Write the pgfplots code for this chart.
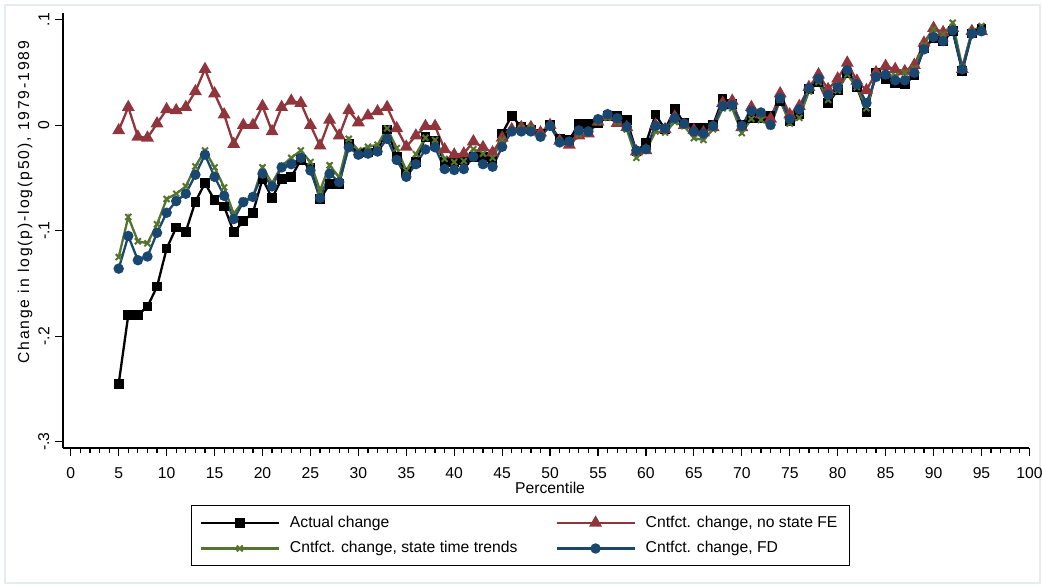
\documentclass[border=0pt]{standalone}
\usepackage{fontspec}
\setmainfont{Liberation Sans}
\newfontfamily\ylabfont[LetterSpace=12]{Liberation Sans}
\usepackage{pgfplots}
\usepackage{pgfplotstable}
\pgfplotsset{compat=1.18}
\definecolor{smaroon}{RGB}{144,53,59}
\definecolor{sgreen}{RGB}{85,117,47}
\definecolor{snavy}{RGB}{26,71,111}
\definecolor{frameclr}{RGB}{228,236,238}

\pgfplotstableread{
p actual nofe trends fd
5 -0.245 -0.005 -0.125 -0.136
6 -0.180 0.017 -0.087 -0.105
7 -0.180 -0.011 -0.110 -0.128
8 -0.172 -0.012 -0.112 -0.1245
9 -0.153 0.0015 -0.094 -0.102
10 -0.117 0.015 -0.070 -0.083
11 -0.097 0.014 -0.065 -0.072
12 -0.101 0.017 -0.058 -0.065
13 -0.0725 0.032 -0.039 -0.047
14 -0.055 0.053 -0.024 -0.028
15 -0.071 0.030 -0.040 -0.049
16 -0.077 0.010 -0.059 -0.067
17 -0.1015 -0.018 -0.084 -0.089
18 -0.091 0.000 -0.0716 -0.073
19 -0.083 0.000 -0.068 -0.068
20 -0.051 0.018 -0.040 -0.046
21 -0.069 -0.006 -0.055 -0.058
22 -0.051 0.017 -0.0385 -0.040
23 -0.049 0.023 -0.031 -0.037
24 -0.033 0.021 -0.024 -0.031
25 -0.040 0.000 -0.035 -0.043
26 -0.070 -0.0195 -0.062 -0.069
27 -0.056 0.005 -0.038 -0.046
28 -0.056 -0.010 -0.0495 -0.054
29 -0.018 0.014 -0.013 -0.021
30 -0.027 0.0025 -0.024 -0.028
31 -0.026 0.009 -0.0205 -0.027
32 -0.024 0.013 -0.0186 -0.025
33 -0.004 0.017 -0.003 -0.013
34 -0.030 -0.003 -0.0217 -0.033
35 -0.045 -0.0205 -0.043 -0.049
36 -0.035 -0.010 -0.0274 -0.037
37 -0.011 -0.001 -0.012 -0.023
38 -0.015 -0.001 -0.014 -0.021
39 -0.035 -0.023 -0.032 -0.0416
40 -0.035 -0.028 -0.035 -0.0425
41 -0.033 -0.027 -0.034 -0.0416
42 -0.030 -0.0155 -0.0227 -0.030
43 -0.030 -0.021 -0.027 -0.037
44 -0.033 -0.026 -0.031 -0.0394
45 -0.008 -0.012 -0.014 -0.0205
46 0.009 -0.004 -0.005 -0.006
47 -0.002 -0.002 -0.003 -0.006
48 -0.004 -0.002 -0.002 -0.006
49 -0.008 -0.007 -0.010 -0.011
50 0.000 0.000 -0.001 -0.0007
51 -0.013 -0.015 -0.015 -0.0164
52 -0.014 -0.0186 -0.016 -0.0155
53 0.001 -0.010 -0.009 -0.005
54 0.001 -0.008 -0.007 -0.006
55 0.002 0.003 0.003 0.0057
56 0.009 0.008 0.007 0.0104
57 0.009 0.002 0.003 0.0066
58 0.005 -0.002 -0.004 -0.0016
59 -0.025 -0.025 -0.031 -0.024
60 -0.017 -0.024 -0.024 -0.0227
61 0.010 0.000 -0.006 -0.0007
62 -0.004 -0.004 -0.007 -0.003
63 0.015 0.008 0.003 0.0066
64 0.002 0.000 -0.001 0.0015
65 -0.003 -0.005 -0.0123 -0.006
66 -0.003 -0.007 -0.014 -0.008
67 0.000 -0.002 -0.004 -0.0007
68 0.025 0.021 0.016 0.018
69 0.020 0.023 0.016 0.019
70 0.000 -0.002 -0.0075 -0.0007
71 0.007 0.017 0.006 0.0135
72 0.007 0.010 0.005 0.012
73 0.009 0.006 -0.001 0.0003
74 0.023 0.030 0.024 0.0255
75 0.004 0.010 0.0015 0.0057
76 0.010 0.018 0.007 0.015
77 0.034 0.036 0.032 0.035
78 0.041 0.048 0.041 0.044
79 0.021 0.034 0.024 0.0286
80 0.033 0.044 0.033 0.036
81 0.049 0.059 0.048 0.052
82 0.036 0.042 0.036 0.0388
83 0.012 0.033 0.016 0.021
84 0.050 0.050 0.047 0.0457
85 0.0435 0.056 0.047 0.048
86 0.040 0.053 0.047 0.0425
87 0.039 0.051 0.050 0.0425
88 0.047 0.057 0.054 0.0497
89 0.073 0.078 0.076 0.0718
90 0.082 0.092 0.091 0.0835
91 0.080 0.088 0.086 0.0797
92 0.089 0.092 0.097 0.0898
93 0.051 0.053 0.055 0.053
94 0.087 0.089 0.089 0.0866
95 0.091 0.089 0.094 0.089
}\data

\begin{document}
\fontsize{7.85}{9.4}\selectfont
\begin{tikzpicture}
\useasboundingbox (-31.5pt,-68.5pt) rectangle (489.5pt,224pt);
\draw[frameclr, line width=0.7pt] (-29pt,-67.5pt) rectangle (488.5pt,221.5pt);
\begin{axis}[
 scale only axis, width=483.2pt, height=217.5pt,
 xmin=-0.81, xmax=100, ymin=-0.306, ymax=0.1063,
 axis x line*=bottom, axis y line*=left,
 axis line style={line width=0.7pt, black},
 tick align=outside,
 major tick length=4pt, minor tick length=2.5pt,
 tick style={line width=0.6pt, black},
 xtick={0,5,...,100}, minor x tick num=4,
 xticklabels={0,5,10,15,20,25,30,35,40,45,50,55,60,65,70,75,80,85,90,95,100},
 xticklabel style={yshift=-3pt},
 ytick={-0.3,-0.2,-0.1,0,0.1},
 yticklabels={-.3,-.2,-.1,0,.1},
 yticklabel style={rotate=90, anchor=south},
 tick label style={font=\fontsize{7.85}{9.4}\selectfont},
 label style={font=\fontsize{7.85}{9.4}\selectfont},
 xlabel={Percentile},
 ylabel={\ylabfont Change in log(p)-log(p50), 1979-1989},
 xlabel style={at={(axis description cs:0.504,-0.092)}, anchor=center},
 ylabel style={at={(axis description cs:-0.0393,0.565)}, anchor=center},
 legend columns=2,
 legend cell align=left,
 legend image code/.code={\draw[mark repeat=2,mark phase=2,#1] plot coordinates {(0pt,0pt) (19.5pt,0pt) (39pt,0pt)};},
 legend style={at={(axis description cs:0.1325,-0.131)}, anchor=north west,
   draw=black, line width=0.6pt, font=\fontsize{7.85}{9.4}\selectfont,
   inner xsep=4pt, inner ysep=3pt, row sep=1.5pt,
   nodes={text height=5.9pt, text depth=1.4pt},
   /tikz/every odd column/.append style={column sep=3pt},
   /tikz/every even column/.append style={column sep=17pt}},
 every axis plot/.append style={line width=1.15pt},
]
\addplot[black, mark=square*, mark size=1.85pt, mark options={solid}] table[x=p, y=actual] {\data};
\addlegendentry{Actual change}
\addplot[smaroon, mark=triangle*, mark size=2.6pt, mark options={solid}] table[x=p, y=nofe] {\data};
\addlegendentry{Cntfct. change, no state FE}
\addplot[sgreen, mark=x, mark size=2.1pt, mark options={solid, line width=1pt}] table[x=p, y=trends] {\data};
\addlegendentry{Cntfct. change, state time trends}
\addplot[snavy, mark=*, mark size=2pt, mark options={solid}] table[x=p, y=fd] {\data};
\addlegendentry{Cntfct. change, FD}
\end{axis}
\end{tikzpicture}
\end{document}
